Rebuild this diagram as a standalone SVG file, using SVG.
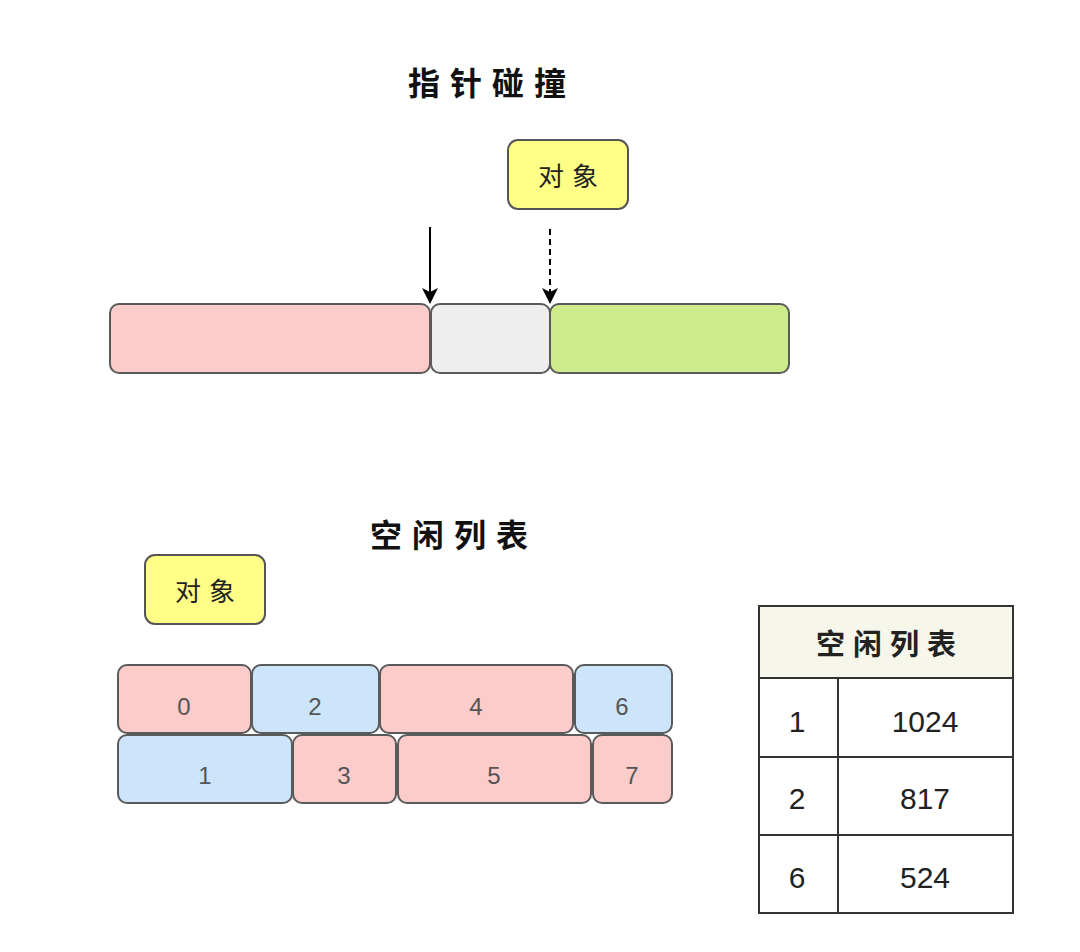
<svg xmlns="http://www.w3.org/2000/svg" width="1080" height="952" viewBox="0 0 1080 952">
<style>
.title{font-family:"Noto Sans CJK SC","Liberation Serif",serif;font-weight:bold;font-size:32px;fill:#111;text-anchor:middle;letter-spacing:10px}
.obj{fill:#ffff88;stroke:#555;stroke-width:2}
.objt{font-family:"Noto Sans CJK SC",sans-serif;font-size:26px;fill:#222;text-anchor:middle;letter-spacing:8px}
.blk{stroke:#5a5a5a;stroke-width:2}
.pink{fill:#fccccb}
.blue{fill:#cce5fb}
.gray{fill:#eeeeee}
.green{fill:#cdeb8b}
.num{font-family:"Liberation Sans",sans-serif;font-size:24px;fill:#555;text-anchor:middle}
.tnum{font-family:"Liberation Sans",sans-serif;font-size:30px;fill:#222;text-anchor:middle}
.tline{stroke:#333;stroke-width:2;fill:none}
</style>
<defs>
<marker id="ah" markerWidth="16" markerHeight="16" refX="14" refY="8" orient="auto" markerUnits="userSpaceOnUse" viewBox="0 0 16 16">
<path d="M0,0 L16,8 L0,16 L4,8 Z" fill="#000"/>
</marker>
</defs>
<rect width="1080" height="952" fill="#fff"/>
<g id="title1"><text class="title" x="492" y="95">指针碰撞</text></g>
<g id="obj1"><rect class="obj" x="508" y="140" width="120" height="69" rx="10"/><text class="objt" x="572" y="186">对象</text></g>
<g id="bar">
<rect id="used" class="blk pink" x="110" y="304" width="320" height="69" rx="9"/>
<rect id="alloc" class="blk gray" x="431" y="304" width="119" height="69" rx="9"/>
<rect id="free" class="blk green" x="550" y="304" width="239" height="69" rx="9"/>
</g>
<g id="connectors">
<line x1="430" y1="227" x2="430" y2="302" stroke="#000" stroke-width="2" marker-end="url(#ah)"/>
<line x1="550" y1="229" x2="550" y2="302" stroke="#000" stroke-width="2" stroke-dasharray="6,4" marker-end="url(#ah)"/>
</g>
<g id="title2"><text class="title" x="454" y="547">空闲列表</text></g>
<g id="obj2"><rect class="obj" x="145" y="555" width="120" height="69" rx="10"/><text class="objt" x="209" y="601">对象</text></g>
<g id="blocks">
<g id="b0"><rect class="blk pink" x="118" y="665" width="133" height="68" rx="9"/><text class="num" x="184" y="715">0</text></g>
<g id="b2"><rect class="blk blue" x="252" y="665" width="127" height="68" rx="9"/><text class="num" x="315" y="715">2</text></g>
<g id="b4"><rect class="blk pink" x="380" y="665" width="193" height="68" rx="9"/><text class="num" x="476" y="715">4</text></g>
<g id="b6"><rect class="blk blue" x="575" y="665" width="97" height="68" rx="9"/><text class="num" x="622" y="715">6</text></g>
<g id="b1"><rect class="blk blue" x="118" y="735" width="174" height="68" rx="9"/><text class="num" x="205" y="784">1</text></g>
<g id="b3"><rect class="blk pink" x="293" y="735" width="103" height="68" rx="9"/><text class="num" x="344" y="784">3</text></g>
<g id="b5"><rect class="blk pink" x="398" y="735" width="193" height="68" rx="9"/><text class="num" x="494" y="784">5</text></g>
<g id="b7"><rect class="blk pink" x="593" y="735" width="79" height="68" rx="9"/><text class="num" x="632" y="784">7</text></g>
</g>
<g id="table">
<rect x="759" y="606" width="254" height="72" fill="#f6f6ea"/>
<rect class="tline" x="759" y="606" width="254" height="307"/>
<line class="tline" x1="759" y1="678" x2="1013" y2="678"/>
<line class="tline" x1="759" y1="757" x2="1013" y2="757"/>
<line class="tline" x1="759" y1="835" x2="1013" y2="835"/>
<line class="tline" x1="838" y1="678" x2="838" y2="913"/>
<text class="objt" x="890" y="655" style="font-size:29px;font-weight:bold;fill:#222">空闲列表</text>
<text class="tnum" x="797" y="732">1</text>
<text class="tnum" x="925" y="732">1024</text>
<text class="tnum" x="797" y="809">2</text>
<text class="tnum" x="925" y="809">817</text>
<text class="tnum" x="797" y="888">6</text>
<text class="tnum" x="925" y="888">524</text>
</g>
</svg>
